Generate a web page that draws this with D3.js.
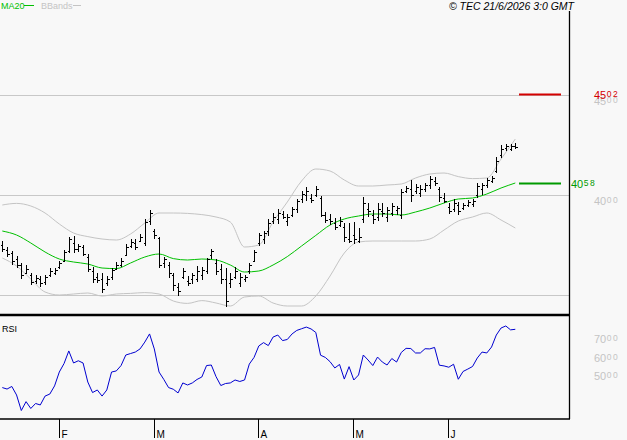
<!DOCTYPE html>
<html>
<head>
<meta charset="utf-8">
<script src="https://cdn.jsdelivr.net/npm/d3@7"></script>
<style>
body { margin: 0; background: #f8f8f8; }
svg { display: block; font-family: "Liberation Sans", Arial, sans-serif; }
</style>
</head>
<body>
<svg width="627" height="440"></svg>
<script>
// daily OHLC, trading-day index 0..108 (mid Jan -> mid Jun)
const high = [3770,3740,3720,3695,3660,3650,3610,3600,3595,3600,
    3635,3635,3670,3725,3790,3795,3755,3750,3705,3640,
    3610,3610,3595,3635,3665,3685,3755,3780,3780,3805,
    3880,3925,3830,3790,3690,3665,3610,3560,3635,3595,
    3610,3645,3640,3685,3730,3680,3655,3635,3610,3640,
    3610,3600,3660,3725,3810,3820,3880,3910,3930,3920,
    3905,3940,3980,4020,4040,4005,4045,3995,3915,3905,
    3885,3890,3860,3860,3865,3835,3990,3960,3925,3960,
    3960,3940,3960,3945,4030,4045,4075,4055,4050,4060,
    4095,4090,4040,4010,3960,3980,3965,3960,3975,3980,
    4060,4060,4085,4095,4190,4250,4255,4255,4260];
const low = [3715,3690,3650,3635,3580,3605,3550,3555,3540,3550,
    3590,3600,3630,3665,3710,3710,3715,3695,3615,3560,
    3560,3510,3545,3575,3625,3640,3695,3735,3725,3765,
    3745,3850,3780,3635,3635,3585,3520,3495,3580,3545,
    3555,3565,3575,3605,3680,3600,3555,3440,3535,3580,
    3540,3565,3605,3665,3745,3755,3795,3855,3855,3880,
    3845,3890,3910,3960,3970,3960,3990,3890,3860,3850,
    3825,3840,3765,3760,3755,3760,3860,3890,3855,3870,
    3890,3865,3895,3900,3880,4010,3965,4005,3990,4015,
    4030,4045,3965,3960,3905,3915,3900,3925,3940,3940,
    3985,4000,4035,4060,4110,4185,4220,4220,4230];
const open = [3750,3725,3710,3680,3650,3610,3600,3570,3580,3565,
    3600,3610,3640,3670,3720,3760,3730,3740,3690,3620,
    3590,3580,3560,3590,3630,3650,3700,3745,3760,3770,
    3760,3870,3820,3785,3660,3650,3600,3540,3590,3570,
    3580,3580,3600,3620,3700,3660,3630,3580,3560,3590,
    3560,3580,3620,3670,3760,3780,3820,3870,3880,3905,
    3870,3900,3930,3980,4000,3985,4000,3985,3900,3880,
    3860,3850,3840,3780,3800,3770,3880,3930,3900,3890,
    3920,3890,3910,3925,3900,4020,4030,4020,4010,4030,
    4050,4070,4030,3985,3940,3930,3950,3935,3950,3955,
    4000,4030,4050,4070,4120,4200,4235,4230,4245];
const close = [3730,3705,3670,3650,3600,3630,3565,3585,3560,3590,
    3620,3625,3660,3715,3780,3730,3745,3705,3630,3580,
    3575,3530,3580,3625,3650,3670,3740,3765,3740,3790,
    3865,3910,3800,3650,3680,3610,3550,3520,3620,3560,
    3600,3620,3625,3680,3720,3620,3580,3470,3580,3620,
    3590,3590,3650,3715,3800,3810,3860,3890,3910,3890,
    3890,3930,3970,4005,4020,3975,4030,3900,3875,3870,
    3840,3870,3790,3770,3780,3790,3960,3920,3880,3930,
    3910,3925,3945,3935,4015,4035,4000,4040,4030,4050,
    4080,4060,3990,3970,3920,3960,3920,3950,3965,3970,
    4045,4050,4075,4085,4170,4230,4245,4245,4240];

// indicator lines, read every third day
const lineIdx = [0,3,6,9,12,15,18,21,24,27,30,33,36,39,42,45,48,51,54,
    57,60,63,66,69,72,75,78,81,84,87,90,93,96,99,102,105,108];
const ma20 = [3820,3800,3760,3715,3680,3665,3655,3635,3632,3660,3690,3705,3682,3675,3680,3675,3650,3615,3620,
    3650,3692,3745,3798,3850,3880,3895,3905,3905,3900,3915,3935,3960,3980,3985,4005,4035,4060];
const bandUp = [3950,3958,3945,3910,3855,3810,3792,3780,3775,3805,3860,3910,3910,3908,3902,3890,3865,3740,3750,
    3865,3965,4070,4130,4120,4075,4045,4045,4050,4055,4085,4105,4110,4092,4082,4085,4180,4280];
const bandLow = [3685,3645,3580,3515,3500,3505,3510,3495,3505,3508,3512,3505,3470,3458,3472,3460,3445,3490,3495,
    3460,3445,3445,3495,3595,3710,3765,3770,3770,3770,3770,3780,3825,3870,3890,3910,3875,3835];

const rsi = [40.5,39.7,41.1,36.5,28.1,32.9,29.2,31.9,31.1,35.9,
    37.0,41.4,48.9,53.5,60.3,53.8,55.0,53.8,43.5,37.8,
    39.2,35.9,39.2,48.9,49.5,52.4,58.1,58.9,59.7,61.4,
    65.1,69.5,61.4,48.9,44.9,40.5,39.6,37.6,43.0,41.9,
    43.0,44.9,46.2,52.4,52.7,46.4,41.6,42.7,43.0,44.6,
    43.8,44.6,53.2,56.8,63.0,64.8,63.2,67.8,68.9,65.9,
    66.5,69.5,71.4,72.3,73.2,72.2,70.3,58.0,56.8,54.5,
    51.1,53.0,45.1,51.8,44.6,47.3,58.1,55.4,52.4,57.0,
    54.3,52.7,56.2,54.3,59.5,61.7,61.6,59.2,59.2,61.5,
    61.4,62.2,52.6,52.2,51.5,53.1,45.0,49.2,50.5,51.9,
    56.5,59.7,59.2,62.4,68.9,72.7,73.8,71.7,72.0];

const monthIdx = [12, 32, 54, 74, 94];
const monthLabels = ["F", "M", "A", "M", "J"];
const priceGrid = [3500, 4000, 4500];
const priceLabels = [4000, 4500];
const rsiLabels = [70, 60, 50];
const target = 4502;   // red level
const lastMa = 4058;

const svg = d3.select("svg");
const right = 569.5;

const x = d3.scaleLinear().domain([0, 108]).range([2.3, 515.3]);
const y = d3.scaleLinear().domain([3500, 4500]).range([295, 95]);
const yr = d3.scaleLinear().domain([50, 70]).range([370, 333]);

function splitNum(g, v, big) {
    // big digits + small raised last two
    const s = String(v);
    g.append("tspan").attr("font-size", big).text(s.slice(0, 2));
    g.append("tspan").attr("font-size", 8.5).attr("dy", -2).attr("dx", 0.5)
        .attr("letter-spacing", 1.5).text(s.slice(2));
}

// grid
svg.append("g").selectAll("line")
    .data(priceGrid)
    .enter().append("line")
    .attr("x1", 0).attr("x2", right)
    .attr("y1", d => Math.round(y(d)) + 0.5).attr("y2", d => Math.round(y(d)) + 0.5)
    .attr("stroke", "#c8c8c8");

// price labels
priceLabels.forEach(v => {
    const t = svg.append("text").attr("x", 594).attr("y", y(v) + 10).attr("fill", "#c4c4c4");
    splitNum(t, v, 11);
});

// bollinger bands
const bandLine = arr => d3.line()
    .x((d, i) => x(lineIdx[i]))
    .y(d => y(d))
    .curve(d3.curveMonotoneX)(arr);
svg.append("path").attr("d", bandLine(bandUp)).attr("fill", "none").attr("stroke", "#c4c4c4");
svg.append("path").attr("d", bandLine(bandLow)).attr("fill", "none").attr("stroke", "#c4c4c4");
svg.append("path").attr("d", bandLine(ma20)).attr("fill", "none").attr("stroke", "#00c000");

// OHLC bars
const bars = svg.append("g").attr("stroke", "#000").attr("shape-rendering", "crispEdges");
high.forEach((h, i) => {
    const cx = Math.round(x(i)) + 0.5;
    bars.append("line").attr("x1", cx).attr("x2", cx).attr("y1", y(h)).attr("y2", y(low[i]));
    bars.append("line").attr("x1", cx - 2).attr("x2", cx).attr("y1", Math.round(y(open[i])) + 0.5).attr("y2", Math.round(y(open[i])) + 0.5);
    bars.append("line").attr("x1", cx).attr("x2", cx + 2).attr("y1", Math.round(y(close[i])) + 0.5).attr("y2", Math.round(y(close[i])) + 0.5);
});

// level markers
svg.append("line").attr("x1", 519).attr("x2", 561).attr("y1", y(target)).attr("y2", y(target))
    .attr("stroke", "#d40000").attr("stroke-width", 2);
svg.append("line").attr("x1", 519).attr("x2", 561).attr("y1", y(lastMa)).attr("y2", y(lastMa))
    .attr("stroke", "#009a00").attr("stroke-width", 2);
splitNum(svg.append("text").attr("x", 594).attr("y", y(target) + 4).attr("fill", "#d40000"), target, 11);
splitNum(svg.append("text").attr("x", 571).attr("y", y(lastMa) + 5).attr("fill", "#009a00"), lastMa, 11);

// RSI
svg.append("path")
    .datum(rsi)
    .attr("d", d3.line().x((d, i) => x(i)).y(d => yr(d)))
    .attr("fill", "none").attr("stroke", "#0000d0");
rsiLabels.forEach(v => {
    const t = svg.append("text").attr("x", 594).attr("y", yr(v) + 10).attr("fill", "#c4c4c4");
    splitNum(t, v * 100, 11);
});
svg.append("text").attr("x", 2).attr("y", 332).attr("font-size", 9).attr("fill", "#000").text("RSI");

// frame
svg.append("line").attr("x1", 0).attr("x2", right + 0.5).attr("y1", 315).attr("y2", 315).attr("stroke", "#000").attr("stroke-width", 2.5);
svg.append("line").attr("x1", 0).attr("x2", right + 0.5).attr("y1", 419).attr("y2", 419).attr("stroke", "#000").attr("stroke-width", 1.5);
svg.append("line").attr("x1", right).attr("x2", right).attr("y1", 11).attr("y2", 419).attr("stroke", "#000").attr("stroke-width", 1.3);

// months
const mg = svg.append("g");
monthIdx.forEach((m, k) => {
    const mx = Math.round(x(m) - 0.5) + 0.5;
    mg.append("line").attr("x1", mx).attr("x2", mx).attr("y1", 419).attr("y2", 438).attr("stroke", "#000");
    mg.append("text").attr("x", mx + 2).attr("y", 438).attr("font-size", 10).text(monthLabels[k]);
});

// header legend
svg.append("text").attr("x", 1).attr("y", 9).attr("font-size", 9).attr("fill", "#00c000").text("MA20");
svg.append("line").attr("x1", 24).attr("x2", 34).attr("y1", 5.5).attr("y2", 5.5).attr("stroke", "#00c000");
svg.append("text").attr("x", 41).attr("y", 9).attr("font-size", 9).attr("fill", "#c4c4c4").text("BBands");
svg.append("line").attr("x1", 73).attr("x2", 81).attr("y1", 5.5).attr("y2", 5.5).attr("stroke", "#c4c4c4");
svg.append("text").attr("x", 574).attr("y", 10).attr("font-size", 10.5).attr("font-style", "italic")
    .attr("text-anchor", "end").text("\u00a9 TEC 21/6/2026 3:0 GMT");
</script>
</body>
</html>
